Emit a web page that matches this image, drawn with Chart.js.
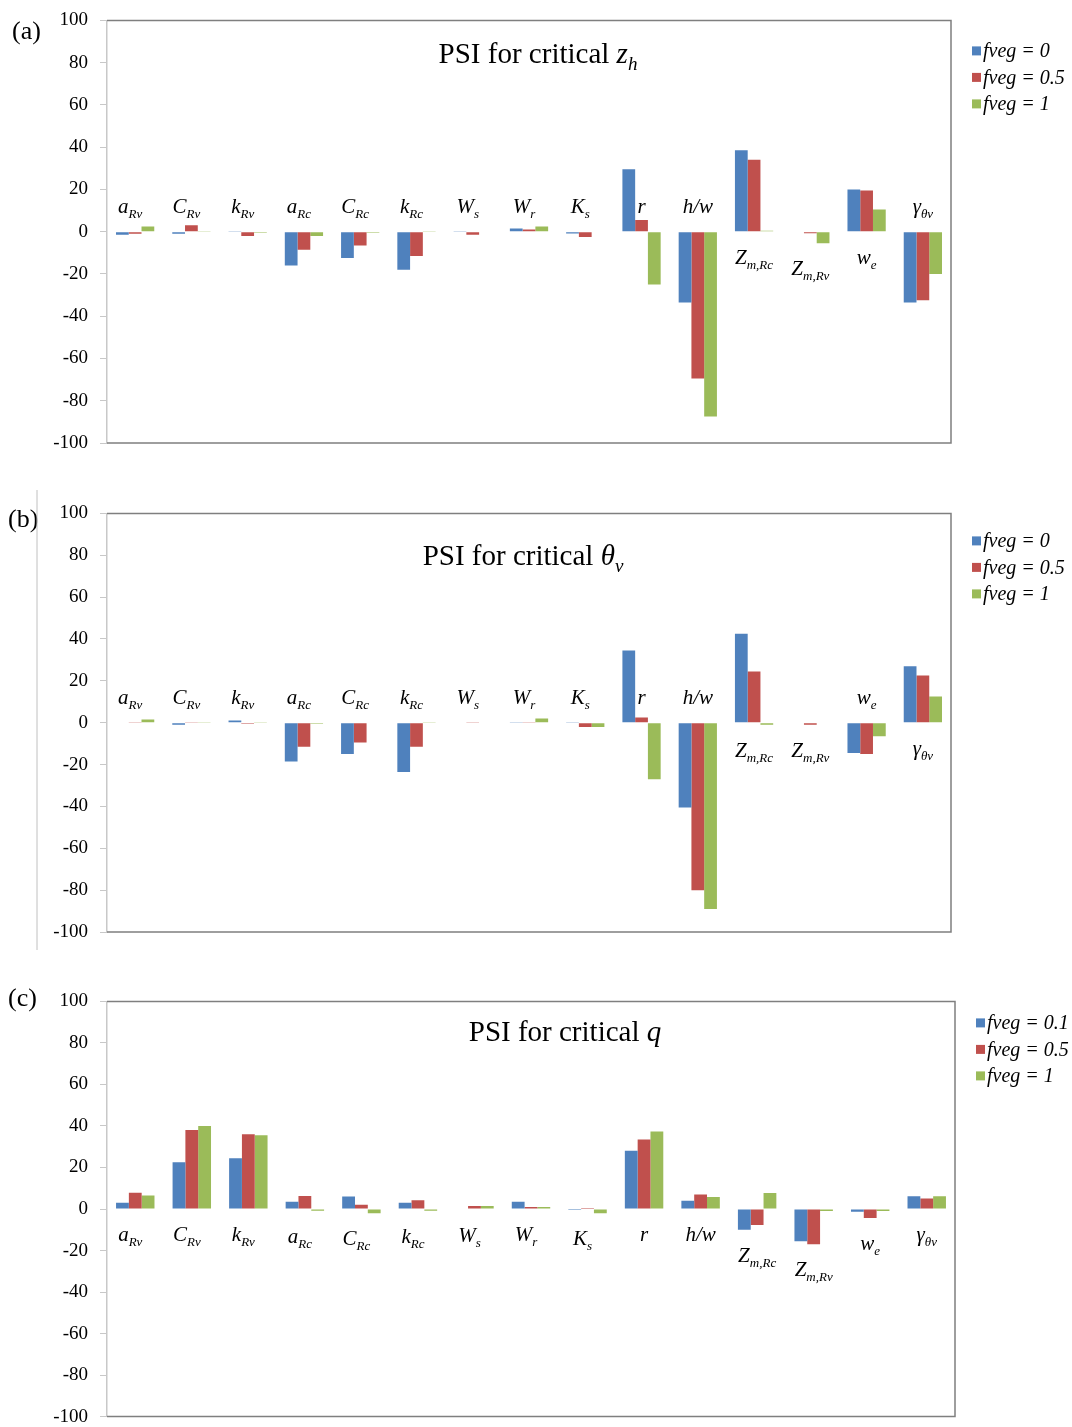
<!DOCTYPE html>
<html>
<head>
<meta charset="utf-8">
<script src="https://cdn.jsdelivr.net/npm/chart.js@4.4.1/dist/chart.umd.min.js"></script>
<style>
  html, body { margin: 0; padding: 0; background: #fff; }
  body { width: 1072px; height: 1427px; position: relative; overflow: hidden; }
  .panel { position: absolute; left: 0; width: 1072px; }
</style>
</head>
<body>
<div class="panel" style="top:-3px;height:490px"><canvas id="chartA" width="1072" height="490"></canvas></div>
<div class="panel" style="top:490px;height:490px"><canvas id="chartB" width="1072" height="490"></canvas></div>
<div class="panel" style="top:978px;height:462px"><canvas id="chartC" width="1072" height="462"></canvas></div>
<script>
// categories: main symbol + subscript
const catMain = ["a", "C", "k", "a", "C", "k", "W", "W", "K", "r", "h/w", "Z", "Z", "w", "γ"];
const catSub = ["Rv", "Rv", "Rv", "Rc", "Rc", "Rc", "s", "r", "s", "", "", "m,Rc", "m,Rv", "e", "θv"];

// (a) PSI for critical z_h
const a_fveg0 = [-1.5, -1, 0.3, -16, -12.5, -18, 0.3, 1.5, -0.8, 29.5, -33.5, 38.5, -0.3, 20, -33.5];
const a_fveg05 = [-1, 3, -2, -8.5, -6.5, -11.5, -1.5, 1, -2.5, 5.5, -69.5, 34, -0.7, 19.5, -32.5];
const a_fveg1 = [2.5, 0.3, -0.5, -2, -0.5, 0.3, -0.3, 2.5, -0.3, -25, -87.5, 0.5, -5.5, 10.5, -20];
const a_labelSide = ["up", "up", "up", "up", "up", "up", "up", "up", "up", "up", "up", "down", "down", "down", "up"];

// (b) PSI for critical theta_v
const b_fveg0 = [-0.3, -1, 1, -18.5, -15, -23.5, -0.3, 0.3, 0.3, 34.5, -40.5, 42.5, -0.3, -14.5, 27];
const b_fveg05 = [0.3, 0.3, -0.5, -11.5, -9.5, -11.5, 0.3, 0.3, -2, 2.5, -80, 24.5, -1, -15, 22.5];
const b_fveg1 = [1.5, 0.3, 0.3, -0.5, -0.3, 0.3, -0.3, 2, -2, -27, -89, -1, -0.3, -6.5, 12.5];
const b_labelSide = ["up", "up", "up", "up", "up", "up", "up", "up", "up", "up", "up", "down", "down", "up", "down"];

// (c) PSI for critical q
const c_fveg01 = [3, 22.5, 24.5, 3.5, 6, 3, -0.3, 3.5, -0.5, 28, 4, -10, -15.5, -1.3, 6.2];
const c_fveg05 = [7.8, 38, 36, 6.3, 2, 4.2, 1.5, 1, 0.5, 33.5, 7, -7.7, -17, -4.3, 5];
const c_fveg1 = [6.5, 40, 35.5, -0.8, -2, -0.8, 1.5, 1, -2, 37.3, 5.8, 7.7, -1, -1, 6.2];
const c_labelSide = ["down", "down", "down", "down", "down", "down", "down", "down", "down", "down", "down", "down", "down", "down", "down"];

const yMin = -100, yMax = 100, yStep = 20;

const BLUE = "#4F81BD", RED = "#C0504D", GREEN = "#9BBB59";
const SERIF = '"Liberation Serif", "DejaVu Serif", serif';

// draw a list of text runs centered on x, y is the baseline
function drawRuns(ctx, runs, x, y, align) {
  let w = 0;
  runs.forEach(r => { ctx.font = r.font; w += ctx.measureText(r.t).width; });
  let cx = align === "left" ? x : x - w / 2;
  ctx.textAlign = "left";
  ctx.textBaseline = "alphabetic";
  runs.forEach(r => {
    ctx.font = r.font;
    ctx.fillText(r.t, cx, y + (r.dy || 0));
    cx += ctx.measureText(r.t).width;
  });
}

const decorations = {
  id: "decorations",
  afterDatasetsDraw(chart, args, opts) {
    const ctx = chart.ctx;
    const area = chart.chartArea;
    const xs = chart.scales.x, ys = chart.scales.y;
    const zeroY = ys.getPixelForValue(0);
    ctx.save();

    // plot frame (left side is the y axis)
    ctx.strokeStyle = "#7f7f7f";
    ctx.lineWidth = 1.5;
    ctx.beginPath();
    ctx.moveTo(area.left, area.top);
    ctx.lineTo(area.right, area.top);
    ctx.lineTo(area.right, area.bottom);
    ctx.lineTo(area.left, area.bottom);
    ctx.stroke();

    ctx.fillStyle = "#000";

    // title
    drawRuns(ctx, opts.title, (area.left + area.right) / 2 + opts.titleDx, area.top + opts.titleDy);

    // category labels next to the zero line
    catMain.forEach((m, i) => {
      // excel put the short subscripted labels a little left of the group centre
      const x = xs.getPixelForValue(i) - (i < 9 ? 5 : 0);
      let y;
      if (opts.side[i] === "up") {
        y = zeroY - 19;
      } else {
        let low = zeroY;
        chart.data.datasets.forEach(ds => {
          low = Math.max(low, ys.getPixelForValue(ds.data[i]));
        });
        y = low + 32;
      }
      const runs = [{ t: m, font: `italic 21px ${SERIF}` }];
      if (catSub[i]) runs.push({ t: catSub[i], font: `italic 13px ${SERIF}`, dy: 5 });
      drawRuns(ctx, runs, x, y);
    });

    // legend
    chart.data.datasets.forEach((ds, i) => {
      const y = area.top + opts.legendDy + i * 26.5;
      ctx.fillStyle = ds.backgroundColor;
      ctx.fillRect(area.right + 21, y - 5, 9, 9);
      ctx.fillStyle = "#000";
      drawRuns(ctx, [{ t: ds.label, font: `italic 20px ${SERIF}` }], area.right + 32, y + 6, "left");
    });

    // panel letter
    drawRuns(ctx, [{ t: opts.letter, font: `26px ${SERIF}` }], opts.letterX, opts.letterY, "left");

    if (opts.sideLine) {
      ctx.strokeStyle = "#c0c0c0";
      ctx.lineWidth = 1;
      ctx.beginPath();
      ctx.moveTo(37, 0);
      ctx.lineTo(37, area.bottom + 18);
      ctx.stroke();
    }
    ctx.restore();
  }
};

function makeChart(id, series, seriesLabels, pad, deco) {
  const colors = [BLUE, RED, GREEN];
  return new Chart(document.getElementById(id), {
    type: "bar",
    data: {
      labels: catMain.map((m, i) => m + catSub[i]),
      datasets: series.map((s, i) => ({
        label: seriesLabels[i],
        data: s,
        backgroundColor: colors[i],
        borderWidth: 0,
        categoryPercentage: 0.68,
        barPercentage: 1.0
      }))
    },
    options: {
      responsive: false,
      animation: false,
      layout: { padding: pad },
      plugins: {
        legend: { display: false },
        tooltip: { enabled: false },
        decorations: deco
      },
      scales: {
        x: { display: false },
        y: {
          min: yMin,
          max: yMax,
          afterFit: s => { s.width = 107; },
          ticks: {
            stepSize: yStep,
            padding: 12,
            color: "#000",
            font: { family: SERIF, size: 19 }
          },
          grid: { drawOnChartArea: false, drawTicks: true, tickLength: 7, color: "#c8c8c8" },
          border: { color: "#c8c8c8", width: 1.5 }
        }
      }
    },
    plugins: [decorations]
  });
}

const titleFont = `29px ${SERIF}`, titleIt = `italic 29px ${SERIF}`, titleSub = `italic 19px ${SERIF}`;

makeChart("chartA", [a_fveg0, a_fveg05, a_fveg1], ["fveg = 0", "fveg = 0.5", "fveg = 1"],
  { left: 0, top: 18, right: 121, bottom: 44 },
  {
    title: [{ t: "PSI for critical ", font: titleFont }, { t: "z", font: titleIt }, { t: "h", font: titleSub, dy: 7 }],
    titleDx: 9, titleDy: 43, side: a_labelSide, legendDy: 31, letter: "(a)", letterX: 12, letterY: 42
  });

makeChart("chartB", [b_fveg0, b_fveg05, b_fveg1], ["fveg = 0", "fveg = 0.5", "fveg = 1"],
  { left: 0, top: 21, right: 121, bottom: 48 },
  {
    title: [{ t: "PSI for critical ", font: titleFont }, { t: "θ", font: titleIt }, { t: "v", font: titleSub, dy: 7 }],
    titleDx: -6, titleDy: 52, side: b_labelSide, legendDy: 28, letter: "(b)", letterX: 8, letterY: 37, sideLine: true
  });

makeChart("chartC", [c_fveg01, c_fveg05, c_fveg1], ["fveg = 0.1", "fveg = 0.5", "fveg = 1"],
  { left: 0, top: 18, right: 117, bottom: 22 },
  {
    title: [{ t: "PSI for critical ", font: titleFont }, { t: "q", font: titleIt }],
    titleDx: 34, titleDy: 40, side: c_labelSide, legendDy: 22, letter: "(c)", letterX: 8, letterY: 28
  });
</script>
</body>
</html>
